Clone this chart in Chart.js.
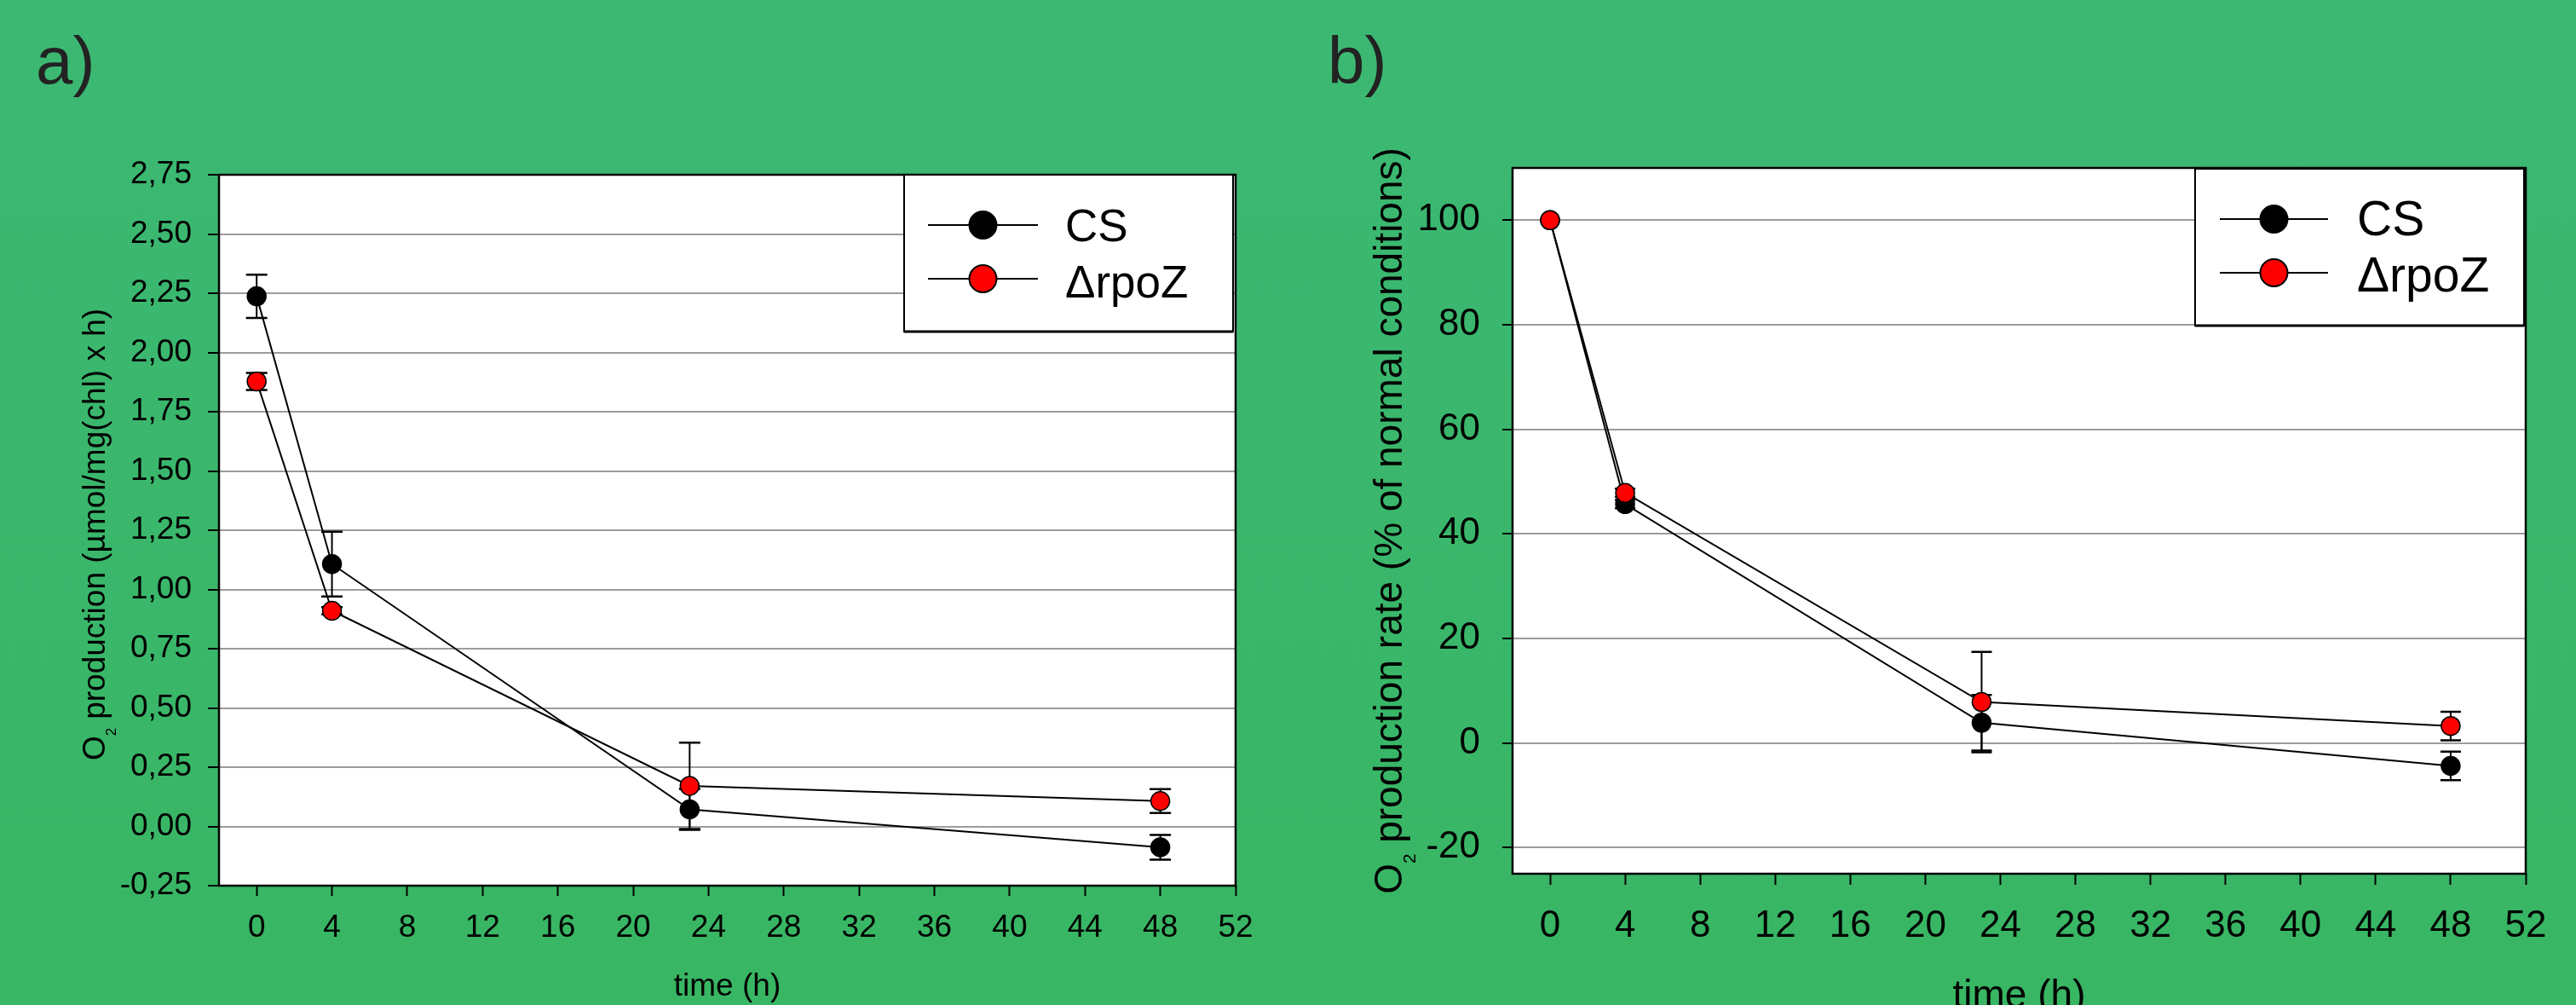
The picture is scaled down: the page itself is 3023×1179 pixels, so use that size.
<!DOCTYPE html>
<html><head><meta charset="utf-8">
<script src="https://cdn.jsdelivr.net/npm/chart.js@4.4.0/dist/chart.umd.min.js"></script>
<style>
html,body{margin:0;padding:0;width:3023px;height:1179px;overflow:hidden;background:linear-gradient(#3cb874,#38b663);}
canvas{position:absolute;top:0}
#ca{left:0}
#cb{left:1510px}
</style></head><body>
<canvas id="ca" width="1510" height="1179"></canvas>
<canvas id="cb" width="1513" height="1179"></canvas>
<script>
// ---------- data ----------
const seriesNames = ['CS', '\u0394rpoZ'];
const seriesColors = ['#000000', '#ff0000'];
const xTicks = [0, 4, 8, 12, 16, 20, 24, 28, 32, 36, 40, 44, 48, 52];
const xTickLabels = ['0','4','8','12','16','20','24','28','32','36','40','44','48','52'];

// panel a
const timesA = [0, 4, 23, 48];
const csA = [2.237, 1.107, 0.072, -0.088];
const csErrA = [0.091, 0.137, 0.086, 0.052];
const rpoA = [1.878, 0.910, 0.171, 0.107];
const rpoErrA = [0.036, 0.015, 0.182, 0.050];
const yTicksA = [-0.25, 0, 0.25, 0.5, 0.75, 1, 1.25, 1.5, 1.75, 2, 2.25, 2.5, 2.75];
const yTickLabelsA = ['-0,25','0,00','0,25','0,50','0,75','1,00','1,25','1,50','1,75','2,00','2,25','2,50','2,75'];
const yTitleA = ['O', '2', ' production (\u00b5mol/mg(chl) x h)'];

// panel b
const timesB = [0, 4, 23, 48];
const csB = [100, 45.7, 3.88, -4.37];
const csErrB = [0, 0.8, 5.3, 2.73];
const rpoB = [100, 47.85, 7.84, 3.26];
const rpoErrB = [0, 0.8, 9.6, 2.73];
const yTicksB = [-20, 0, 20, 40, 60, 80, 100];
const yTickLabelsB = ['-20','0','20','40','60','80','100'];
const yTitleB = ['O', '2', ' production rate (% of normal conditions)'];

const xTitle = 'time (h)';
const FONT = '"Liberation Sans", Arial, Helvetica, sans-serif';

// ---------- helpers ----------
function drawYTitle(ctx, parts, cx, cy, size) {
  ctx.save();
  ctx.translate(cx, cy);
  ctx.rotate(-Math.PI / 2);
  const mf = size + 'px ' + FONT, sf = (size * 0.45) + 'px ' + FONT;
  ctx.font = mf;
  const w1 = ctx.measureText(parts[0]).width, w3 = ctx.measureText(parts[2]).width;
  ctx.font = sf;
  const w2 = ctx.measureText(parts[1]).width;
  let x = -(w1 + w2 + w3) / 2;
  ctx.textBaseline = 'alphabetic'; ctx.textAlign = 'left'; ctx.fillStyle = '#000';
  ctx.font = mf; ctx.fillText(parts[0], x, 0); x += w1;
  ctx.font = sf; ctx.fillText(parts[1], x, size * 0.34); x += w2;
  ctx.font = mf; ctx.fillText(parts[2], x, 0);
  ctx.restore();
}

function drawLegend(ctx, box, L) {
  ctx.save();
  ctx.fillStyle = '#fff';
  ctx.fillRect(box.x, box.y, box.w, box.h);
  ctx.strokeStyle = '#000';
  ctx.lineWidth = 2;
  ctx.strokeRect(box.x, box.y, box.w, box.h);
  ctx.lineWidth = 3;
  ctx.beginPath(); ctx.moveTo(box.x, box.y + box.h); ctx.lineTo(box.x + box.w, box.y + box.h); ctx.stroke();
  seriesNames.forEach((name, i) => {
    const y = box.y + L.rowY[i];
    ctx.strokeStyle = '#000';
    ctx.lineWidth = 2;
    ctx.beginPath(); ctx.moveTo(box.x + L.lineX0, y); ctx.lineTo(box.x + L.lineX1, y); ctx.stroke();
    ctx.beginPath(); ctx.arc(box.x + L.markX, y, L.r, 0, Math.PI * 2);
    ctx.fillStyle = seriesColors[i]; ctx.fill();
    ctx.lineWidth = 2; ctx.stroke();
    ctx.fillStyle = '#000';
    ctx.font = L.font + 'px ' + FONT;
    ctx.textBaseline = 'alphabetic'; ctx.textAlign = 'left';
    ctx.fillText(name, box.x + L.textX, box.y + L.textY[i]);
  });
  ctx.restore();
}

function panelPlugin(P) {
  return {
    id: 'panel' + P.id,
    beforeDraw(chart) {
      const {ctx, chartArea: a} = chart;
      ctx.save();
      ctx.fillStyle = '#fff';
      ctx.fillRect(a.left, a.top, a.right - a.left, a.bottom - a.top);
      ctx.restore();
    },
    beforeDatasetsDraw(chart) {
      const {ctx, chartArea: a} = chart;
      const xs = chart.scales.x, ys = chart.scales.y;
      ctx.save();
      ctx.strokeStyle = '#000';
      ctx.lineWidth = 2.5;
      ctx.strokeRect(a.left, a.top, a.right - a.left, a.bottom - a.top);
      // error bars
      P.err.forEach((errs, di) => {
        const vals = P.vals[di];
        P.times.forEach((t, j) => {
          const e = errs[j];
          if (!e) return;
          const px = xs.getPixelForValue(t);
          const y1 = ys.getPixelForValue(vals[j] + e);
          const y2 = ys.getPixelForValue(vals[j] - e);
          ctx.lineWidth = 2;
          ctx.beginPath(); ctx.moveTo(px, y1); ctx.lineTo(px, y2); ctx.stroke();
          ctx.lineWidth = 2.5;
          ctx.beginPath();
          ctx.moveTo(px - P.cap, y1); ctx.lineTo(px + P.cap, y1);
          ctx.moveTo(px - P.cap, y2); ctx.lineTo(px + P.cap, y2);
          ctx.stroke();
        });
      });
      ctx.restore();
    },
    afterDraw(chart) {
      const {ctx, chartArea: a} = chart;
      drawLegend(ctx, P.legendBox, P.legend);
      // x title
      ctx.save();
      ctx.fillStyle = '#000';
      ctx.font = P.xTitleSize + 'px ' + FONT;
      ctx.textAlign = 'center'; ctx.textBaseline = 'alphabetic';
      ctx.fillText(xTitle, (a.left + a.right) / 2, P.xTitleBaseline);
      // panel letter
      ctx.fillStyle = '#222';
      ctx.font = '78px ' + FONT;
      ctx.textAlign = 'left';
      ctx.fillText(P.letter, P.letterX, 98);
      ctx.restore();
      drawYTitle(ctx, P.yTitle, P.yTitleX, P.yTitleY, P.yTitleSize);
    }
  };
}

function dataset(i, times, vals) {
  return {
    label: seriesNames[i],
    data: times.map((t, j) => ({x: t, y: vals[j]})),
    borderColor: '#000', borderWidth: 2, tension: 0,
    pointRadius: 11, pointHoverRadius: 11,
    pointBackgroundColor: seriesColors[i], pointBorderColor: '#000', pointBorderWidth: 1.5,
    order: i === 0 ? 1 : 0
  };
}

function makeChart(id, P) {
  return new Chart(document.getElementById(id), {
    type: 'line',
    data: { datasets: [dataset(0, P.times, P.vals[0]), dataset(1, P.times, P.vals[1])] },
    options: {
      responsive: false, animation: false, devicePixelRatio: 1, events: [],
      layout: { padding: P.padding },
      plugins: { legend: {display: false}, tooltip: {enabled: false} },
      scales: {
        x: {
          type: 'linear', min: -2, max: 52,
          afterBuildTicks: s => { s.ticks = xTicks.map(v => ({value: v})); },
          afterFit: s => { s.height = P.xAxisHeight; },
          grid: { drawOnChartArea: false, drawTicks: true, tickLength: P.xTickLen, tickColor: '#000', tickWidth: 2, color: '#000' },
          border: { display: false },
          ticks: { color: '#000', font: {family: FONT, size: P.tickSize}, padding: P.xTickPad, maxRotation: 0, autoSkip: false,
                   callback: (v, i) => xTickLabels[i] }
        },
        y: {
          type: 'linear', min: P.yMin, max: P.yMax,
          afterBuildTicks: s => { s.ticks = P.yTicks.map(v => ({value: v})); },
          afterFit: s => { s.width = P.yAxisWidth; },
          grid: { color: '#9c9c9c', lineWidth: 2, drawTicks: true, tickLength: P.yTickLen, tickColor: '#000', tickWidth: 2 },
          border: { display: false },
          ticks: { color: '#000', font: {family: FONT, size: P.tickSize}, padding: P.yTickPad, autoSkip: false,
                   callback: (v, i) => P.yTickLabels[i] }
        }
      }
    },
    plugins: [panelPlugin(P)]
  });
}

makeChart('ca', {
  id: 'a', letter: 'a)', letterX: 42,
  times: timesA, vals: [csA, rpoA], err: [csErrA, rpoErrA], cap: 12.5,
  yMin: -0.25, yMax: 2.75, yTicks: yTicksA, yTickLabels: yTickLabelsA,
  padding: {top: 205, right: 60, bottom: 0, left: 0},
  yAxisWidth: 257, xAxisHeight: 140,
  tickSize: 37, xTickLen: 12, xTickPad: 16, yTickLen: 13, yTickPad: 19,
  xTitleSize: 37, xTitleBaseline: 1168,
  yTitle: yTitleA, yTitleX: 123, yTitleY: 627, yTitleSize: 37,
  legendBox: {x: 1061, y: 205, w: 386, h: 184},
  legend: {rowY: [59, 122], textY: [78, 144], lineX0: 28, lineX1: 157, markX: 92.5, textX: 189, r: 16, font: 53}
});

makeChart('cb', {
  id: 'b', letter: 'b)', letterX: 48,
  times: timesB, vals: [csB, rpoB], err: [csErrB, rpoErrB], cap: 12,
  yMin: -25, yMax: 110, yTicks: yTicksB, yTickLabels: yTickLabelsB,
  padding: {top: 197, right: 59, bottom: 0, left: 0},
  yAxisWidth: 265, xAxisHeight: 154,
  tickSize: 44, xTickLen: 13, xTickPad: 22, yTickLen: 12, yTickPad: 26,
  xTitleSize: 46, xTitleBaseline: 1182,
  yTitle: yTitleB, yTitleX: 135, yTitleY: 611, yTitleSize: 46,
  legendBox: {x: 1066, y: 198, w: 386, h: 184},
  legend: {rowY: [59, 122], textY: [78, 144], lineX0: 29, lineX1: 156, markX: 92.5, textX: 190, r: 16, font: 57}
});
</script>
</body></html>
